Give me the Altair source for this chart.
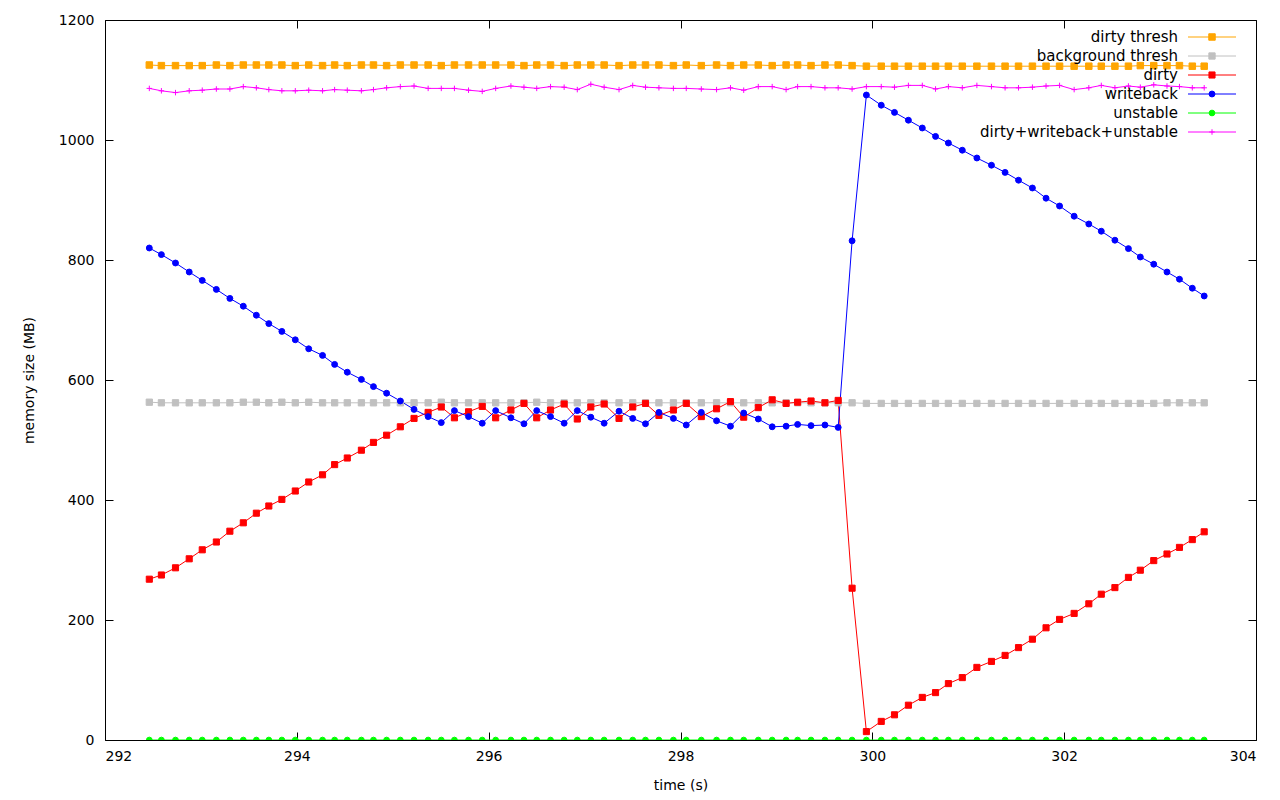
import altair as alt
import pandas as pd

time_s = [292.462, 292.588, 292.735, 292.878, 293.014, 293.161, 293.302, 293.442, 293.578, 293.708,
          293.844, 293.984, 294.124, 294.268, 294.394, 294.526, 294.673, 294.799, 294.936, 295.079,
          295.222, 295.369, 295.506, 295.643, 295.790, 295.933, 296.073, 296.232, 296.368, 296.501,
          296.645, 296.787, 296.924, 297.065, 297.204, 297.359, 297.502, 297.635, 297.775, 297.926,
          298.060, 298.217, 298.376, 298.521, 298.659, 298.811, 298.956, 299.101, 299.221, 299.361,
          299.506, 299.644, 299.789, 299.938, 300.093, 300.231, 300.376, 300.521, 300.659, 300.793,
          300.938, 301.090, 301.242, 301.384, 301.524, 301.669, 301.811, 301.952, 302.104, 302.257,
          302.387, 302.529, 302.670, 302.794, 302.934, 303.072, 303.202, 303.336, 303.460]

dirty_thresh = [1125, 1124, 1124, 1124, 1124, 1125, 1124, 1125, 1125, 1125,
                1125, 1124, 1125, 1124, 1125, 1124, 1125, 1125, 1124, 1125,
                1125, 1125, 1124, 1125, 1125, 1125, 1125, 1125, 1124, 1125,
                1125, 1124, 1125, 1125, 1125, 1124, 1125, 1125, 1125, 1124,
                1125, 1124, 1125, 1124, 1125, 1125, 1124, 1125, 1125, 1124,
                1125, 1125, 1124, 1123, 1123, 1123, 1123, 1123, 1123, 1123,
                1123, 1123, 1123, 1123, 1123, 1123, 1123, 1123, 1123, 1123,
                1123, 1123, 1123, 1124, 1124, 1124, 1124, 1123, 1123]

background_thresh = [563, 562, 562, 562, 562, 562, 562, 563, 563, 562,
                     563, 562, 563, 562, 562, 562, 562, 562, 562, 562,
                     562, 562, 563, 562, 562, 562, 562, 562, 562, 563,
                     562, 562, 562, 562, 562, 562, 562, 562, 562, 562,
                     562, 562, 562, 562, 562, 562, 562, 562, 562, 562,
                     562, 562, 562, 561, 561, 561, 561, 561, 561, 561,
                     561, 561, 561, 561, 561, 561, 561, 561, 561, 561,
                     561, 561, 561, 561, 561, 562, 562, 562, 562]

dirty = [268, 275, 287, 302, 317, 330, 348, 362, 378, 390,
         401, 415, 430, 442, 459, 470, 483, 496, 508, 522,
         536, 546, 555, 537, 547, 556, 537, 550, 561, 537,
         550, 560, 535, 555, 560, 536, 555, 561, 541, 550,
         561, 539, 552, 564, 538, 554, 567, 561, 563, 565,
         562, 566, 253, 14, 31, 42, 58, 71, 79, 94,
         104, 121, 131, 141, 154, 168, 187, 201, 211, 227,
         243, 254, 271, 283, 299, 310, 321, 334, 347]

writeback = [820, 809, 795, 780, 766, 751, 736, 723, 708, 694,
             681, 667, 652, 641, 626, 613, 601, 589, 578, 565,
             551, 539, 529, 549, 539, 528, 549, 537, 527, 549,
             539, 528, 549, 538, 528, 548, 536, 527, 546, 536,
             525, 546, 532, 523, 545, 535, 522, 523, 526, 524,
             525, 521, 832, 1075, 1058, 1046, 1033, 1020, 1006, 995,
             983, 970, 958, 946, 933, 920, 903, 890, 873, 860,
             848, 833, 819, 805, 793, 780, 768, 753, 740]

unstable = [0, 0, 0, 0, 0, 0, 0, 0, 0, 0,
            0, 0, 0, 0, 0, 0, 0, 0, 0, 0,
            0, 0, 0, 0, 0, 0, 0, 0, 0, 0,
            0, 0, 0, 0, 0, 0, 0, 0, 0, 0,
            0, 0, 0, 0, 0, 0, 0, 0, 0, 0,
            0, 0, 0, 0, 0, 0, 0, 0, 0, 0,
            0, 0, 0, 0, 0, 0, 0, 0, 0, 0,
            0, 0, 0, 0, 0, 0, 0, 0, 0]

total = [1086, 1082, 1079, 1082, 1083, 1085, 1085, 1089, 1087, 1084,
         1082, 1082, 1083, 1082, 1084, 1083, 1082, 1084, 1087, 1089,
         1090, 1086, 1086, 1086, 1083, 1081, 1086, 1090, 1088, 1086,
         1089, 1088, 1084, 1093, 1088, 1084, 1091, 1088, 1087, 1086,
         1086, 1085, 1084, 1087, 1083, 1089, 1089, 1084, 1089, 1089,
         1087, 1087, 1085, 1089, 1089, 1088, 1091, 1091, 1085, 1089,
         1087, 1091, 1089, 1087, 1087, 1088, 1090, 1091, 1084, 1087,
         1091, 1087, 1090, 1088, 1092, 1090, 1089, 1087, 1087]

series_names = ["dirty thresh", "background thresh", "dirty", "writeback",
                "unstable", "dirty+writeback+unstable"]
x_ticks = [292, 294, 296, 298, 300, 302, 304]
y_ticks = [0, 200, 400, 600, 800, 1000, 1200]

colors = ["#FFA500", "#C0C0C0", "#FF0000", "#0000FF", "#00FF00", "#FF00FF"]
shapes = ["square", "square", "square", "circle", "circle", "M-1,0L1,0M0,-1L0,1"]
sizes = [42, 30, 48, 40, 34, 60]

rows = []
for name, vals in zip(series_names, [dirty_thresh, background_thresh, dirty, writeback, unstable, total]):
    for t, v in zip(time_s, vals):
        rows.append({"t": t, "v": v, "series": name})
df = pd.DataFrame(rows)
df_key = pd.DataFrame({"series": series_names})

FONT = "DejaVu Sans"
xscale = alt.Scale(domain=[292, 304], nice=False, zero=False)
yscale = alt.Scale(domain=[0, 1200], nice=False)
cscale = alt.Scale(domain=series_names, range=colors)
shscale = alt.Scale(domain=series_names, range=shapes)
szscale = alt.Scale(domain=series_names, range=sizes)

lines = alt.Chart(df).mark_line(strokeWidth=1, clip=True).encode(
    x=alt.X("t:Q", scale=xscale,
            axis=alt.Axis(orient="top", values=x_ticks, labels=False, title=None,
                          tickSize=8, offset=-8, domain=False, grid=False,
                          tickColor="black")),
    y=alt.Y("v:Q", scale=yscale,
            axis=alt.Axis(orient="right", values=y_ticks, labels=False, title=None,
                          tickSize=8, offset=-8, domain=False, grid=False,
                          tickColor="black")),
    color=alt.Color("series:N", scale=cscale, legend=None),
)

points = alt.Chart(df).mark_point(filled=False, strokeWidth=1, opacity=1, clip=True).encode(
    x=alt.X("t:Q", scale=xscale,
            axis=alt.Axis(orient="bottom", values=x_ticks, title="time (s)", format="d",
                          tickSize=8, offset=-8, domain=False, grid=False,
                          tickColor="black", labelPadding=9, labelFontSize=14,
                          labelFont=FONT, labelColor="black", titleFont=FONT,
                          titleFontSize=14, titleFontWeight="normal",
                          titleColor="black", titlePadding=15)),
    y=alt.Y("v:Q", scale=yscale,
            axis=alt.Axis(orient="left", values=y_ticks, title="memory size (MB)", format="d",
                          tickSize=8, offset=-8, domain=False, grid=False,
                          tickColor="black", labelPadding=11, labelFontSize=14,
                          labelFont=FONT, labelColor="black", titleFont=FONT,
                          titleFontSize=14, titleFontWeight="normal",
                          titleColor="black", titlePadding=22)),
    color=alt.Color("series:N", scale=cscale, legend=None),
    fill=alt.Fill("series:N", scale=cscale, legend=None),
    shape=alt.Shape("series:N", scale=shscale, legend=None),
    size=alt.Size("series:N", scale=szscale, legend=None),
)

# gnuplot-style key in the top right corner: label, then a line sample with its marker
key_y = alt.Y("series:N",
              scale=alt.Scale(type="point", domain=series_names, range=[17, 112], padding=0),
              axis=None)
key_lines = alt.Chart(df_key).mark_rule(strokeWidth=1).encode(
    x=alt.value(1083), x2=alt.value(1131), y=key_y,
    color=alt.Color("series:N", scale=cscale, legend=None),
)
key_points = alt.Chart(df_key).mark_point(filled=False, strokeWidth=1, opacity=1).encode(
    x=alt.value(1107), y=key_y,
    color=alt.Color("series:N", scale=cscale, legend=None),
    fill=alt.Fill("series:N", scale=cscale, legend=None),
    shape=alt.Shape("series:N", scale=shscale, legend=None),
    size=alt.Size("series:N", scale=szscale, legend=None),
)
key_text = alt.Chart(df_key).mark_text(align="right", baseline="middle", fontSize=15,
                                       font=FONT, color="black").encode(
    x=alt.value(1073), y=key_y, text="series:N",
)

chart = alt.layer(lines, points, key_lines, key_points, key_text).resolve_axis(
    x="independent", y="independent"
).resolve_scale(
    y="independent"
).properties(
    width=1151, height=720,
    padding={"left": 97, "top": 12, "right": 10, "bottom": 52},
    autosize=alt.AutoSizeParams(type="none"),
    background="white",
).configure_view(stroke="black", strokeWidth=1)

chart.save("out.html", embed_options={"renderer": "svg", "actions": False})
